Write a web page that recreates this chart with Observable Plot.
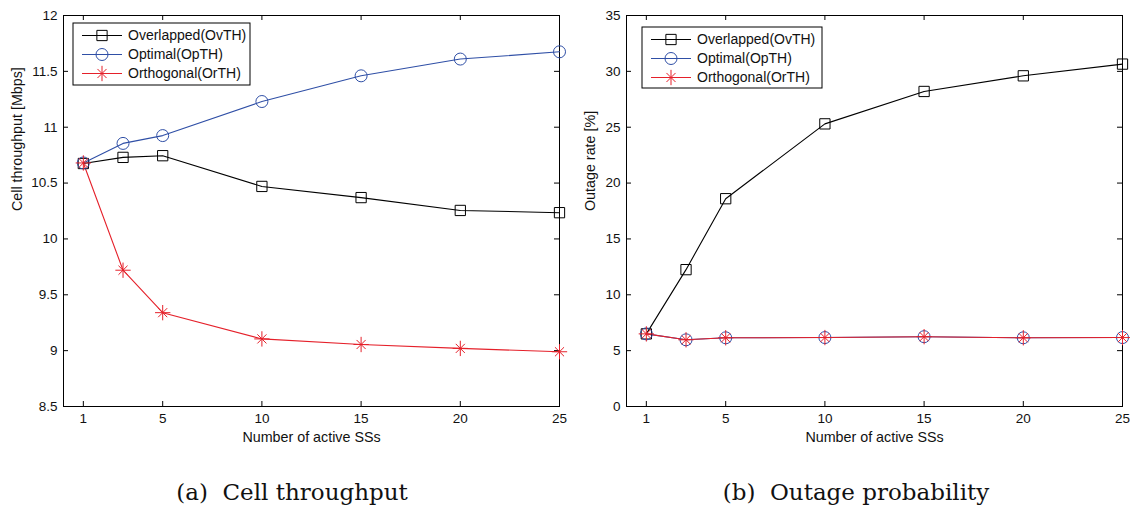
<!DOCTYPE html>
<html><head><meta charset="utf-8">
<script src="https://cdn.jsdelivr.net/npm/d3@7"></script>
<script src="https://cdn.jsdelivr.net/npm/@observablehq/plot@0.6"></script>
<style>
body{margin:0;background:#fff;}
#wrap{width:1130px;height:508px;position:relative;overflow:hidden;background:#fff;}
#row{display:flex;}
.cap{position:absolute;top:492px;font-family:"DejaVu Serif","Liberation Serif",serif;font-size:23px;white-space:pre;transform:translate(-50%,-50%);color:#111;}
</style></head><body>
<div id="wrap"><div id="row"></div>
<div class="cap" style="left:292px">(a)  Cell throughput</div>
<div class="cap" style="left:856px">(b)  Outage probability</div>
</div>
<script>
const xs = [1, 3, 5, 10, 15, 20, 25];
const seriesNames = ["Overlapped(OvTH)", "Optimal(OpTH)", "Orthogonal(OrTH)"];
const thrOverlapped = [10.675, 10.73, 10.745, 10.47, 10.37, 10.255, 10.235];
const thrOptimal = [10.68, 10.855, 10.925, 11.23, 11.46, 11.61, 11.675];
const thrOrthogonal = [10.68, 9.72, 9.34, 9.105, 9.055, 9.02, 8.99];
const outOverlapped = [6.5, 12.25, 18.6, 25.3, 28.2, 29.6, 30.65];
const outOptimal = [6.5, 5.97, 6.15, 6.17, 6.25, 6.15, 6.17];
const outOrthogonal = [6.5, 5.97, 6.15, 6.17, 6.25, 6.15, 6.17];
const xTicks = [1, 5, 10, 15, 20, 25];
const thrTicks = [8.5, 9, 9.5, 10, 10.5, 11, 11.5, 12];
const outTicks = [0, 5, 10, 15, 20, 25, 30, 35];
const xLabel = "Number of active SSs";
const colors = ["#000000", "#2f4fa6", "#e5202a"];

const R = 6;
function markerMarks(data, i) {
  const c = colors[i];
  if (i === 0) return [Plot.dot(data, {x: "x", y: "y", symbol: "square", r: 5.8, fill: "none", stroke: c, strokeWidth: 1})];
  if (i === 1) return [Plot.dot(data, {x: "x", y: "y", symbol: "circle", r: R, fill: "none", stroke: c, strokeWidth: 1})];
  return [
    Plot.dot(data, {x: "x", y: "y", symbol: "plus", r: 5, stroke: c, strokeWidth: 1}),
    Plot.dot(data, {x: "x", y: "y", symbol: "times", r: 4.2, stroke: c, strokeWidth: 1})
  ];
}

function legendMark(x0, y0, w, h) {
  return () => {
    const g = d3.create("svg:g");
    g.append("rect").attr("x", x0).attr("y", y0).attr("width", w).attr("height", h)
      .attr("fill", "white").attr("stroke", "#000").attr("stroke-width", 1);
    seriesNames.forEach((s, i) => {
      const cy = y0 + 12.5 + i * 19;
      const c = colors[i];
      g.append("line").attr("x1", x0 + 9).attr("x2", x0 + 49).attr("y1", cy).attr("y2", cy)
        .attr("stroke", c).attr("stroke-width", 1);
      const mx = x0 + 29;
      const add = (type, r) => g.append("path")
        .attr("transform", `translate(${mx},${cy})`)
        .attr("d", d3.symbol(type, Math.PI * r * r)())
        .attr("fill", "none").attr("stroke", c).attr("stroke-width", 1);
      if (i === 0) add(d3.symbolSquare, 5.8);
      else if (i === 1) add(d3.symbolCircle, R);
      else { add(d3.symbolPlus, 5); add(d3.symbolTimes, 4.2); }
      g.append("text").attr("x", x0 + 55).attr("y", cy).attr("dy", "0.35em")
        .attr("text-anchor", "start")
        .attr("fill", "#111").attr("font-size", 14).text(s);
    });
    return g.node();
  };
}

function panel({vals, yDomain, yTicks, yLabel, W, marginLeft, marginRight, labelOffsetY, lx, ly, lw, lh}) {
  const H = 450, mt = 15, mb = 44;
  const innerH = H - mt - mb, innerW = W - marginLeft - marginRight;
  const series = seriesNames.map((s, i) => xs.map((x, j) => ({series: s, x, y: vals[i][j]})));
  const marks = [
    Plot.frame({stroke: "#000", strokeWidth: 1}),
    Plot.ruleX(xTicks, {x: d => d, insetTop: innerH - 5, stroke: "#000"}),
    Plot.ruleX(xTicks, {x: d => d, insetBottom: innerH - 5, stroke: "#000"}),
    Plot.ruleY(yTicks, {y: d => d, insetRight: innerW - 5, stroke: "#000"}),
    Plot.ruleY(yTicks, {y: d => d, insetLeft: innerW - 5, stroke: "#000"}),
    Plot.axisX(xTicks, {tickSize: 0, tickPadding: 7, label: null, fontSize: 13.5}),
    Plot.axisY(yTicks, {tickSize: 0, tickPadding: 6, tickFormat: d => String(d), label: null, fontSize: 13.5}),
    Plot.text([xLabel], {text: d => d, frameAnchor: "bottom", dy: 35, fontSize: 14.3, fill: "#111"}),
    Plot.text([yLabel], {text: d => d, frameAnchor: "left", dx: -labelOffsetY, rotate: -90, fontSize: 14.3, fill: "#111"})
  ];
  series.forEach((d, i) => {
    marks.push(Plot.line(d, {x: "x", y: "y", stroke: colors[i], strokeWidth: 1.1}));
  });
  series.forEach((d, i) => marks.push(...markerMarks(d, i)));
  marks.push(legendMark(lx, ly, lw, lh));
  return Plot.plot({
    width: W, height: H, marginTop: mt, marginBottom: mb, marginLeft, marginRight,
    style: {fontFamily: "'Liberation Sans', Arial, sans-serif", fontSize: "13.5px", color: "#111", background: "white"},
    x: {domain: [0, 25]},
    y: {domain: yDomain},
    marks
  });
}

const row = document.getElementById("row");
row.append(panel({
  vals: [thrOverlapped, thrOptimal, thrOrthogonal], yDomain: [8.5, 12], yTicks: thrTicks,
  yLabel: "Cell throughput [Mbps]", W: 575, marginLeft: 63, marginRight: 16, labelOffsetY: 46,
  lx: 73, ly: 23, lw: 177, lh: 62
}));
row.append(panel({
  vals: [outOverlapped, outOptimal, outOrthogonal], yDomain: [0, 35], yTicks: outTicks,
  yLabel: "Outage rate [%]", W: 555, marginLeft: 51, marginRight: 8, labelOffsetY: 36,
  lx: 67, ly: 27, lw: 180, lh: 61
}));
</script>
</body></html>
